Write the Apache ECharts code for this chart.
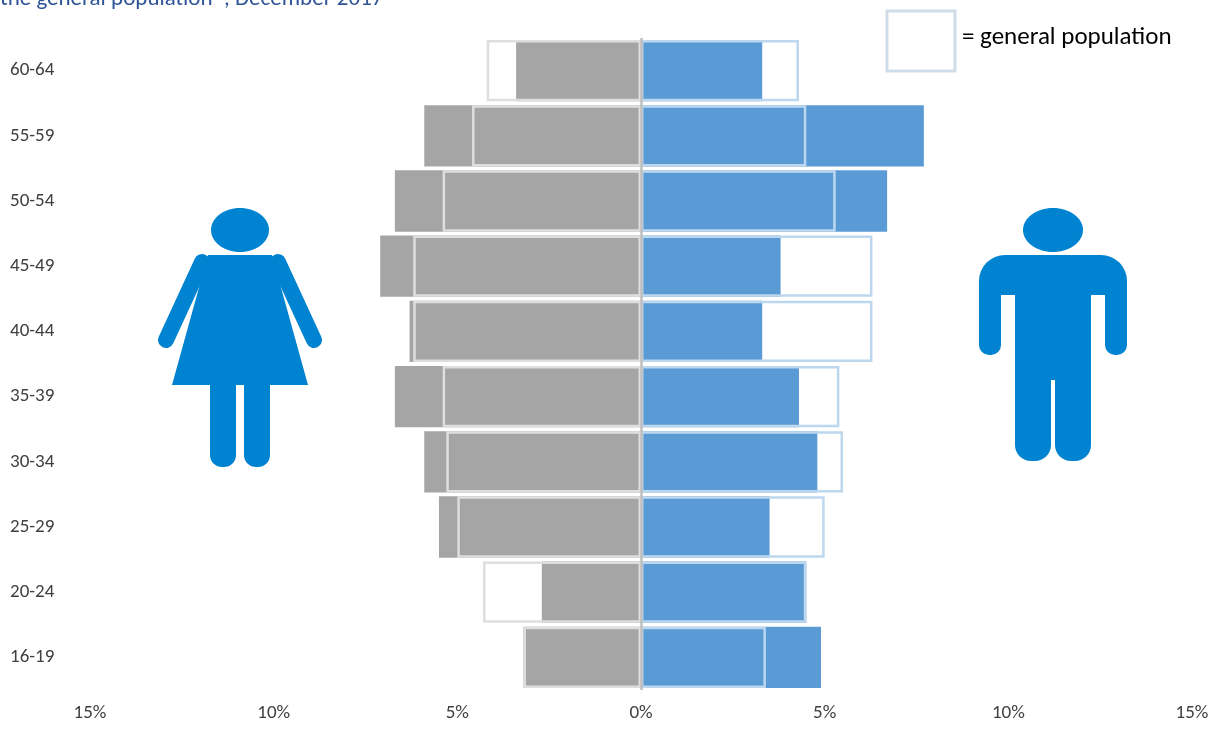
<!DOCTYPE html>
<html><head><meta charset="utf-8">
<script src="https://cdn.jsdelivr.net/npm/echarts@6/dist/echarts.min.js"></script>
<style>html,body{margin:0;background:#fff}#c{width:1225px;height:731px}</style>
</head><body><div id="c"></div>
<script>
const ages = ['16-19','20-24','25-29','30-34','35-39','40-44','45-49','50-54','55-59','60-64'];
const women = [3.2, 2.7, 5.5, 5.9, 6.7, 6.3, 7.1, 6.7, 5.9, 3.4];
const womenGen = [3.2, 4.3, 5.0, 5.3, 5.4, 6.2, 6.2, 5.4, 4.6, 4.2];
const men = [4.9, 4.5, 3.5, 4.8, 4.3, 3.3, 3.8, 6.7, 7.7, 3.3];
const menGen = [3.4, 4.5, 5.0, 5.5, 5.4, 6.3, 6.3, 5.3, 4.5, 4.3];
const neg = a => a.map(v => -v);

const chart = echarts.init(document.getElementById('c'));
const F = 'Calibri, Carlito, "Open Sans", sans-serif';
const blue = '#0083d0';
function woman(cx) {
  return [
    {type:'ellipse', shape:{cx:cx, cy:230, rx:29, ry:22}, style:{fill:blue}},
    {type:'polygon', shape:{points:[[cx-32,255],[cx+32,255],[cx+68,385],[cx-68,385]]}, style:{fill:blue}},
    {type:'polyline', shape:{points:[[cx-38,262],[cx-74,340]]}, style:{stroke:blue, lineWidth:16, lineCap:'round'}},
    {type:'polyline', shape:{points:[[cx+38,262],[cx+74,340]]}, style:{stroke:blue, lineWidth:16, lineCap:'round'}},
    {type:'rect', shape:{x:cx-30, y:380, width:26, height:87, r:[0,0,12,12]}, style:{fill:blue}},
    {type:'rect', shape:{x:cx+4, y:380, width:26, height:87, r:[0,0,12,12]}, style:{fill:blue}}
  ];
}
function man(cx) {
  return [
    {type:'ellipse', shape:{cx:cx, cy:230, rx:30, ry:22}, style:{fill:blue}},
    {type:'rect', shape:{x:cx-74, y:255, width:148, height:40, r:[26,26,0,0]}, style:{fill:blue}},
    {type:'rect', shape:{x:cx-74, y:290, width:22, height:65, r:[0,0,10,10]}, style:{fill:blue}},
    {type:'rect', shape:{x:cx+52, y:290, width:22, height:65, r:[0,0,10,10]}, style:{fill:blue}},
    {type:'rect', shape:{x:cx-38, y:290, width:76, height:90}, style:{fill:blue}},
    {type:'rect', shape:{x:cx-38, y:360, width:36, height:101, r:[0,0,16,16]}, style:{fill:blue}},
    {type:'rect', shape:{x:cx+2, y:360, width:36, height:101, r:[0,0,16,16]}, style:{fill:blue}}
  ];
}
chart.setOption({
  animation: false,
  grid: {left: 90, right: 33, top: 38, bottom: 41},
  xAxis: {
    type: 'value', min: -15, max: 15, interval: 5,
    axisLabel: {formatter: v => Math.abs(v) + '%', fontSize: 19, color: '#404040', fontFamily: F, margin: 14},
    splitLine: {show: false}, axisLine: {show: false}, axisTick: {show: false}
  },
  yAxis: {
    type: 'category', data: ages,
    axisLabel: {fontSize: 19, color: '#404040', fontFamily: F, align: 'left', margin: 80},
    axisLine: {show: false}, axisTick: {show: false}
  },
  series: [
    {type: 'bar', data: neg(women), barWidth: '94%', barGap: '-100%', itemStyle: {color: '#a5a5a5'}},
    {type: 'bar', data: men, barWidth: '94%', itemStyle: {color: '#5b9bd5'}},
    {type: 'bar', data: neg(womenGen), barWidth: '94%', itemStyle: {color: 'rgba(0,0,0,0)', borderColor: '#dedede', borderWidth: 2.5}},
    {type: 'bar', data: menGen, barWidth: '94%', itemStyle: {color: 'rgba(0,0,0,0)', borderColor: '#bdd7ee', borderWidth: 2.5},
     markLine: {silent: true, symbol: 'none', label: {show: false}, lineStyle: {color: '#bfbfbf', width: 2.5, type: 'solid'}, data: [{xAxis: 0}]}}
  ],
  graphic: [
    {type: 'text', left: 0, top: -12, style: {text: 'the general population*, December 2017', fontSize: 23, fill: '#2f5597', fontFamily: F}},
    {type: 'rect', shape: {x: 887, y: 11, width: 68, height: 60}, style: {fill: '#fff', stroke: '#d0dde9', lineWidth: 3}},
    {type: 'text', left: 962, top: 25, style: {text: '= general population', fontSize: 25, fill: '#000', fontFamily: F}}
  ].concat(woman(240), man(1053))
});
</script></body></html>
